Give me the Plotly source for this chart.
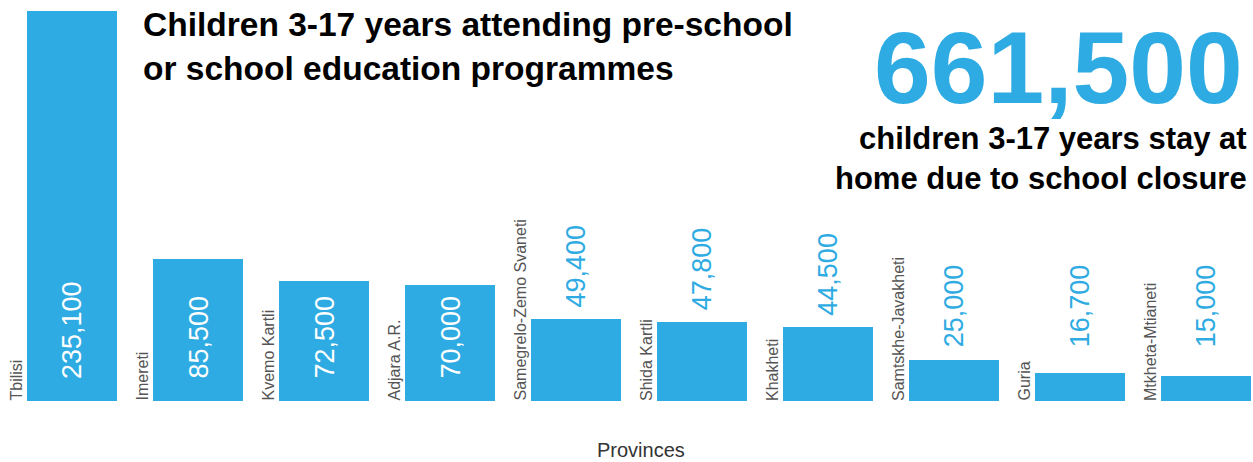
import plotly.graph_objects as go

provinces = ["Tbilisi", "Imereti", "Kvemo Kartli", "Adjara A.R.", "Samegrelo-Zemo Svaneti",
             "Shida Kartli", "Khakheti", "Samtskhe-Javakheti", "Guria", "Mtkheta-Mtianeti"]
values = [235100, 85500, 72500, 70000, 49400, 47800, 44500, 25000, 16700, 15000]
total_home = "661,500"
title_text = "Children 3-17 years attending pre-school<br>or school education programmes"
sub_text = "children 3-17 years stay at<br>home due to school closure"
x_title = "Provinces"

BLUE = "#2EABE2"
FONT = "Liberation Sans, Arial, sans-serif"
W, H = 1253, 462
ML, MR, MT, MB = 0, 0, 11, 61
SLOT = 126.0
FIRST_CENTER = 72.0

xs = list(range(len(values)))
fig = go.Figure(go.Bar(x=xs, y=values, width=90 / SLOT, marker=dict(color=BLUE, line=dict(width=0)),
                       hoverinfo="skip"))

ann = []
inside_threshold = 60000
for i, (p, v) in enumerate(zip(provinces, values)):
    ann.append(dict(x=i - 56 / SLOT, y=0, xref="x", yref="y", text=p, textangle=-90,
                    showarrow=False, xanchor="center", yanchor="bottom", yshift=-2,
                    font=dict(family=FONT, size=16, color="#555555")))
    label = f"{v:,}"
    if v >= inside_threshold:
        ann.append(dict(x=i, y=0, xref="x", yref="y", text=label, textangle=-90, showarrow=False,
                        xanchor="center", yanchor="bottom", yshift=20,
                        font=dict(family=FONT, size=27, color="white")))
    else:
        ann.append(dict(x=i, y=max(v, 25500), xref="x", yref="y", text=label, textangle=-90,
                        showarrow=False, xanchor="center", yanchor="bottom", yshift=9,
                        font=dict(family=FONT, size=27, color=BLUE)))

ph = H - MT - MB
ann.append(dict(x=141 / W, y=1 + (MT - 4) / ph, xref="paper", yref="paper", text="<b>" + title_text + "</b>",
                showarrow=False, xanchor="left", yanchor="top", align="left",
                font=dict(family=FONT, size=33.5, color="black")))
ann.append(dict(x=1245 / W, y=1 - (9 - MT) / ph, xref="paper", yref="paper", text="<b>" + total_home + "</b>",
                showarrow=False, xanchor="right", yanchor="top", align="right",
                font=dict(family=FONT, size=102, color=BLUE)))
ann.append(dict(x=1249 / W, y=1 - (119 - MT) / ph, xref="paper", yref="paper", text="<b>" + sub_text + "</b>",
                showarrow=False, xanchor="right", yanchor="top", align="right",
                font=dict(family=FONT, size=31, color="black")))
ann.append(dict(x=641 / W, y=-(450 - (H - MB)) / ph, xref="paper", yref="paper", text=x_title,
                showarrow=False, xanchor="center", yanchor="middle",
                font=dict(family=FONT, size=20, color="#333333")))

fig.update_layout(
    width=W, height=H, margin=dict(l=ML, r=MR, t=MT, b=MB, pad=0),
    plot_bgcolor="white", paper_bgcolor="white", showlegend=False,
    xaxis=dict(range=[-FIRST_CENTER / SLOT, (W - FIRST_CENTER) / SLOT], visible=False, fixedrange=True),
    yaxis=dict(range=[0, max(values)], visible=False, fixedrange=True),
    annotations=ann, bargap=0,
)
fig.write_html("out.html", config={"displayModeBar": False})
